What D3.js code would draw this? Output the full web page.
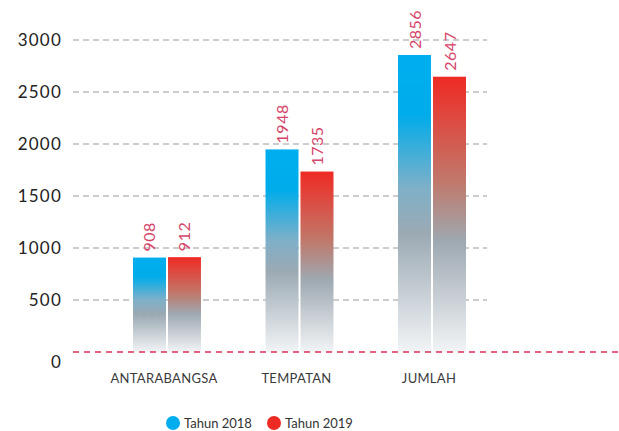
<!DOCTYPE html>
<html><head><meta charset="utf-8">
<script src="https://cdn.jsdelivr.net/npm/d3@7"></script>
<style>body{margin:0;background:#fff;} svg{display:block;font-family:Lato,"Open Sans",sans-serif;}</style>
</head><body><svg id="c" width="619" height="431"></svg>
<script>
const categories = ["ANTARABANGSA","TEMPATAN","JUMLAH"];
const seriesNames = ["Tahun 2018","Tahun 2019"];
const values2018 = [908,1948,2856];
const values2019 = [912,1735,2647];
const yTicks = [0,500,1000,1500,2000,2500,3000];
const seriesColors = ["#00aeef","#ee2a24"];

const svg = d3.select("#c");
const x0 = d3.scaleBand().domain(categories).range([133,466]).paddingInner(0.487).paddingOuter(0);
const x1 = d3.scaleBand().domain(seriesNames).range([0,x0.bandwidth()]).paddingInner(0.057);
const y = d3.scaleLinear().domain([0,3000]).range([352,40]);

const defs = svg.append("defs");
const gstops = [
  [[0,"#00aeef"],[0.2,"#00acea"],[0.45,"#7fb0c8"],[0.6,"#9ba9b3"],[1,"#f2f4f6"]],
  [[0,"#ee2a24"],[0.12,"#e2433a"],[0.38,"#c0786a"],[0.6,"#9ea9b2"],[1,"#f2f4f6"]]
];
gstops.forEach((st,i)=>{
  const g = defs.append("linearGradient").attr("id","g"+i).attr("x1",0).attr("y1",0).attr("x2",0).attr("y2",1);
  st.forEach(s=>g.append("stop").attr("offset",s[0]).attr("stop-color",s[1]));
});

// grid
svg.append("g").selectAll("line").data(yTicks.filter(d=>d>0)).join("line")
  .attr("x1",73).attr("x2",487).attr("y1",d=>y(d)).attr("y2",d=>y(d))
  .attr("stroke","#9a9a9a").attr("stroke-width",1).attr("stroke-dasharray","6,4");

// tick labels
svg.append("g").selectAll("text").data(yTicks).join("text")
  .attr("x",62).attr("y",d=>y(d)+(d===0?10:0)).attr("dy","0.35em")
  .attr("text-anchor","end").attr("font-size",17).attr("fill","#222")
  .attr("letter-spacing","1.2px").text(d=>d);

const data = categories.map((c,i)=>({cat:c, vals:[values2018[i],values2019[i]]}));
const groups = svg.append("g").selectAll("g").data(data).join("g")
  .attr("transform",d=>`translate(${x0(d.cat)},0)`);
groups.selectAll("rect").data(d=>d.vals.map((v,j)=>({v,j}))).join("rect")
  .attr("x",d=>x1(seriesNames[d.j])).attr("width",x1.bandwidth())
  .attr("y",d=>y(d.v)).attr("height",d=>y(0)-y(d.v))
  .attr("fill",d=>`url(#g${d.j})`);
groups.selectAll("text.v").data(d=>d.vals.map((v,j)=>({v,j}))).join("text")
  .attr("class","v")
  .attr("transform",d=>`translate(${x1(seriesNames[d.j])+x1.bandwidth()/2+6},${y(d.v)-6}) rotate(-90)`)
  .attr("font-size",16).attr("letter-spacing","0.5px").attr("fill","#d6466a").text(d=>d.v);

// zero line
svg.append("line").attr("x1",73).attr("x2",619).attr("y1",y(0)).attr("y2",y(0))
  .attr("stroke","#d92f55").attr("stroke-width",1.5).attr("stroke-dasharray","6,5");

// category labels
svg.append("g").selectAll("text").data(categories).join("text")
  .attr("x",d=>x0(d)+x0.bandwidth()/2-3).attr("y",383)
  .attr("text-anchor","middle").attr("font-size",13).attr("fill","#3a3a3a").attr("letter-spacing","0.3px").text(d=>d);

// legend
const leg = svg.append("g");
const lx = [173,274];
seriesNames.forEach((s,i)=>{
  leg.append("circle").attr("cx",lx[i]).attr("cy",423).attr("r",7).attr("fill",seriesColors[i]);
  leg.append("text").attr("x",lx[i]+11).attr("y",423).attr("dy","0.35em")
    .attr("font-size",13).attr("fill","#333").text(s);
});
</script></body></html>
